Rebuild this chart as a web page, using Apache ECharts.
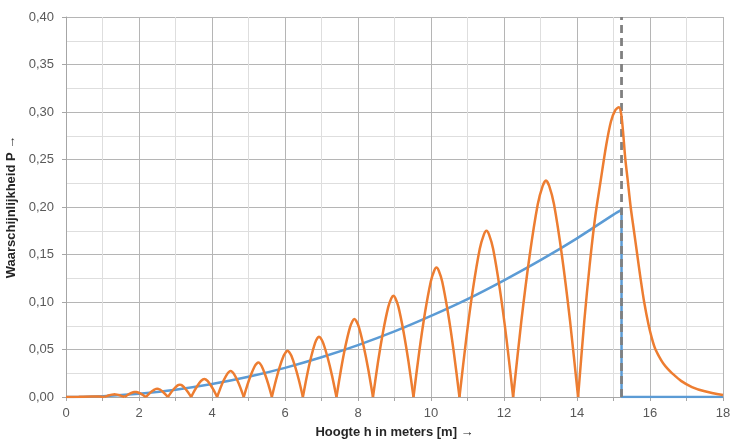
<!DOCTYPE html>
<html>
<head>
<meta charset="utf-8">
<script src="https://cdn.jsdelivr.net/npm/echarts@6/dist/echarts.min.js"></script>
<style>
html,body{margin:0;padding:0;background:#fff;}
#chart{width:731px;height:441px;}
</style>
</head>
<body>
<div id="chart"></div>
<script>
// Axis ranges / tick settings
const xMin = 0, xMax = 18, xStep = 2;
const yMin = 0, yMax = 0.40, yStep = 0.05;
const xTitle = 'Hoogte h in meters [m] \u2192';
const yTitle = 'Waarschijnlijkheid P \u2192';

// Cut-off height (dashed line)
const cutoffX = 15.22;

// Blue curve
const blueX = [0, 1, 2, 3, 4, 5, 6, 7, 8, 9, 10, 11, 12, 13, 14, 15, 15.22];
const blueY = [0, 0.0009, 0.0034, 0.0077, 0.0137, 0.0213, 0.0307, 0.0418, 0.0546, 0.069, 0.0853, 0.103, 0.1228, 0.144, 0.167, 0.192, 0.197];
const blueTailX = [15.22, 15.22, 18];
const blueTailY = [0.197, 0, 0];

// Orange curve; arches separated by zero cusps
const orangeX = [
  0, 0.35, 0.7, 0.9, 1.05,
  1.12, 1.19, 1.26, 1.302, 1.33, 1.357, 1.398, 1.465, 1.533, 1.60,
  1.675, 1.75, 1.825, 1.87, 1.90, 1.929, 1.973, 2.045, 2.118, 2.19,
  2.268, 2.345, 2.423, 2.469, 2.50, 2.529, 2.573, 2.645, 2.718, 2.79,
  2.873, 2.955, 3.038, 3.087, 3.12, 3.151, 3.198, 3.275, 3.353, 3.43,
  3.52, 3.61, 3.70, 3.754, 3.79, 3.825, 3.878, 3.965, 4.053, 4.14,
  4.233, 4.325, 4.418, 4.473, 4.51, 4.546, 4.60, 4.69, 4.78, 4.87,
  4.97, 5.07, 5.17, 5.23, 5.27, 5.307, 5.363, 5.455, 5.548, 5.64,
  5.748, 5.855, 5.963, 6.027, 6.07, 6.112, 6.175, 6.28, 6.385, 6.49,
  6.60, 6.71, 6.82, 6.886, 6.93, 6.978, 7.05, 7.17, 7.29, 7.41,
  7.533, 7.655, 7.778, 7.851, 7.90, 7.951, 8.028, 8.155, 8.283, 8.41,
  8.55, 8.69, 8.83, 8.914, 8.97, 9.025, 9.108, 9.245, 9.383, 9.52,
  9.678, 9.835, 9.993, 10.087, 10.15, 10.213, 10.308, 10.465, 10.623, 10.78,
  10.965, 11.15, 11.335, 11.446, 11.52, 11.593, 11.703, 11.885, 12.068, 12.25,
  12.475, 12.70, 12.925, 13.06, 13.15, 13.238, 13.37, 13.59, 13.81, 14.03,
  14.20, 14.35, 14.50, 14.65, 14.80, 14.93, 15.05, 15.15, 15.21, 15.26, 15.32, 15.39,
  15.47, 15.56, 15.65, 15.74, 15.84, 15.96, 16.05, 16.14, 16.25, 16.36, 16.48, 16.60, 16.85, 17.15, 17.5, 18
];
const orangeY = [
  0, 0.0002, 0.0005, 0.0004, 0,
  0.00098, 0.00182, 0.00249, 0.00273, 0.0028, 0.00273, 0.00249, 0.00182, 0.00098, 0,
  0.00186, 0.00345, 0.00472, 0.00517, 0.0053, 0.00517, 0.00472, 0.00345, 0.00186, 0,
  0.00308, 0.00572, 0.00783, 0.00858, 0.0088, 0.00858, 0.00783, 0.00572, 0.00308, 0,
  0.00455, 0.00845, 0.01157, 0.01268, 0.013, 0.01268, 0.01157, 0.00845, 0.00455, 0,
  0.00665, 0.01235, 0.01691, 0.01853, 0.019, 0.01853, 0.01691, 0.01235, 0.00665, 0,
  0.00959, 0.01781, 0.02439, 0.02672, 0.0274, 0.02672, 0.02439, 0.01781, 0.00959, 0,
  0.01274, 0.02366, 0.0324, 0.03549, 0.0364, 0.03549, 0.0324, 0.02366, 0.01274, 0,
  0.01705, 0.03166, 0.04334, 0.04748, 0.0487, 0.04748, 0.04334, 0.03166, 0.01705, 0,
  0.02223, 0.04128, 0.05652, 0.06191, 0.0635, 0.06191, 0.05652, 0.04128, 0.02223, 0,
  0.02874, 0.05337, 0.07307, 0.08005, 0.0821, 0.08005, 0.07307, 0.05337, 0.02874, 0,
  0.03731, 0.06929, 0.09487, 0.10394, 0.1066, 0.10394, 0.09487, 0.06929, 0.03731, 0,
  0.04774, 0.08866, 0.1214, 0.13299, 0.1364, 0.13299, 0.1214, 0.08866, 0.04774, 0,
  0.06125, 0.11375, 0.15575, 0.17063, 0.175, 0.17063, 0.15575, 0.11375, 0.06125, 0,
  0.0798, 0.1482, 0.2029, 0.2223, 0.228, 0.2223, 0.2029, 0.1482, 0.0798, 0,
  0.08, 0.14, 0.19, 0.228, 0.265, 0.29, 0.302, 0.305, 0.298, 0.28, 0.252, 0.228,
  0.200, 0.175, 0.150, 0.125, 0.100, 0.076, 0.062, 0.051, 0.0425, 0.0355, 0.0298, 0.0252, 0.017, 0.0105, 0.006, 0.002
];

const blueColor = '#5B9BD5';
const orangeColor = '#ED7D31';
const labelFont = 'Liberation Sans, Arial, sans-serif';

// split orange into arches at zero cusps
const arches = [];
let cur = [];
for (let i = 0; i < orangeX.length; i++) {
  cur.push([orangeX[i], orangeY[i]]);
  if (orangeY[i] === 0 && i > 0 && i < orangeX.length - 1) {
    arches.push(cur);
    cur = [[orangeX[i], orangeY[i]]];
  }
}
if (cur.length > 1) arches.push(cur);

const series = [];
series.push({
  type: 'line', name: 'blue', data: blueX.map((x, i) => [x, blueY[i]]),
  smooth: 0.3, symbol: 'none', lineStyle: {color: blueColor, width: 2.5}, z: 3, animation: false
});
series.push({
  type: 'line', name: 'blueTail', data: blueTailX.map((x, i) => [x, blueTailY[i]]),
  symbol: 'none', lineStyle: {color: blueColor, width: 2.5}, z: 3, animation: false
});
series.push({
  type: 'line', name: 'cutoff', data: [[cutoffX, yMin], [cutoffX, yMax]],
  symbol: 'none', lineStyle: {color: '#808080', width: 2.8, type: [8, 5]}, z: 4, animation: false
});
arches.forEach((a, k) => {
  series.push({
    type: 'line', name: 'orange' + k, data: a,
    smooth: k === arches.length - 1 ? 0.3 : 0.25, symbol: 'none',
    lineStyle: {color: orangeColor, width: 2.5}, z: 5, animation: false
  });
});

const chart = echarts.init(document.getElementById('chart'), null, {renderer: 'canvas'});
chart.setOption({
  animation: false,
  backgroundColor: '#fff',
  grid: {left: 66, right: 8, top: 17, bottom: 44, containLabel: false, outerBoundsMode: 'none'},
  xAxis: {
    type: 'value', min: xMin, max: xMax, interval: xStep,
    name: xTitle, nameLocation: 'middle', nameGap: 29,
    nameTextStyle: {fontFamily: labelFont, fontSize: 13, fontWeight: 'bold', color: '#262626'},
    axisLine: {show: true, lineStyle: {color: '#a6a6a6', width: 1}},
    axisTick: {show: true, length: 4, lineStyle: {color: '#a6a6a6'}},
    minorTick: {show: true, splitNumber: 2, length: 4, lineStyle: {color: '#a6a6a6'}},
    axisLabel: {fontFamily: labelFont, fontSize: 13, color: '#595959', margin: 10},
    splitLine: {show: true, lineStyle: {color: '#b5b5b5', width: 1}},
    minorSplitLine: {show: true, lineStyle: {color: '#dedede', width: 1}}
  },
  yAxis: {
    type: 'value', min: yMin, max: yMax, interval: yStep,
    name: yTitle, nameLocation: 'middle', nameGap: 38, nameRotate: 90,
    nameTextStyle: {fontFamily: labelFont, fontSize: 13, fontWeight: 'bold', color: '#262626'},
    axisLine: {show: true, lineStyle: {color: '#a6a6a6', width: 1}},
    axisTick: {show: true, length: 4, lineStyle: {color: '#a6a6a6'}},
    minorTick: {show: false, splitNumber: 2},
    axisLabel: {fontFamily: labelFont, fontSize: 13, color: '#595959', margin: 12,
      formatter: v => v.toFixed(2).replace('.', ',')},
    splitLine: {show: true, lineStyle: {color: '#b5b5b5', width: 1}},
    minorSplitLine: {show: true, lineStyle: {color: '#dedede', width: 1}}
  },
  series: series
});
</script>
</body>
</html>
